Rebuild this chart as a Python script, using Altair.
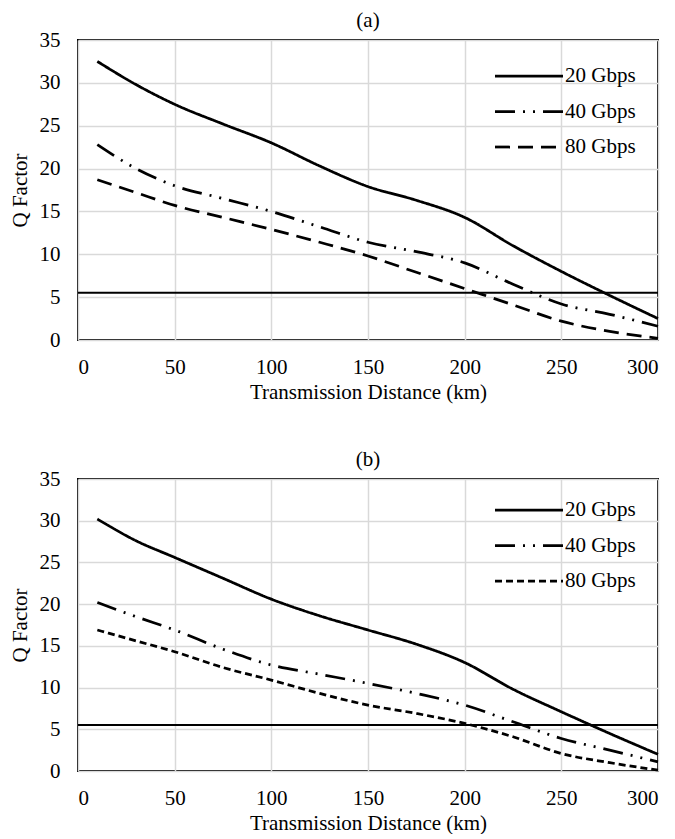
import altair as alt
import pandas as pd

DIST = [10, 30, 50, 75, 100, 125, 150, 175, 200, 225, 250, 275, 300]
SERIES = ["20 Gbps", "40 Gbps", "80 Gbps"]

# panel (a)
A_20 = [32.5, 29.8, 27.5, 25.2, 23.0, 20.3, 17.9, 16.3, 14.3, 11.0, 8.0, 5.2, 2.5]
A_40 = [22.8, 20.0, 18.0, 16.5, 15.0, 13.2, 11.4, 10.3, 9.0, 6.5, 4.2, 3.0, 1.6]
A_80 = [18.7, 17.2, 15.7, 14.3, 12.9, 11.4, 9.8, 7.9, 6.0, 4.1, 2.2, 1.0, 0.2]

# panel (b)
B_20 = [30.2, 27.6, 25.6, 23.1, 20.6, 18.6, 16.9, 15.2, 13.0, 9.8, 7.1, 4.5, 2.0]
B_40 = [20.2, 18.5, 16.9, 14.6, 12.7, 11.6, 10.5, 9.3, 7.9, 5.9, 3.9, 2.5, 1.1]
B_80 = [16.9, 15.6, 14.3, 12.4, 10.9, 9.3, 7.9, 6.9, 5.7, 4.1, 2.1, 1.0, 0.1]

THRESHOLD = [5.5]
X_TICKS = [0, 50, 100, 150, 200, 250, 300]
Y_TICKS = [0, 5, 10, 15, 20, 25, 30, 35]

FONT = "Liberation Serif"
FS = 21

DASH_A = [[1, 0], [20, 8, 2, 8, 2, 8], [15, 8]]
DASH_B = [[1, 0], [20, 8, 2, 8, 2, 8], [7, 4]]

# wide horizontal legend symbol (scaled by sqrt(size)/2)
LEG_PATH = "M-3,0H3"


def panel(title, s20, s40, s80, dashes, height, legend_y):
    df = pd.DataFrame({
        "Distance": DIST * 3,
        "Q": s20 + s40 + s80,
        "Rate": [s for s in SERIES for _ in DIST],
    })
    thr = pd.DataFrame({"Q": THRESHOLD})
    rule = alt.Chart(thr).mark_rule(color="black", strokeWidth=2).encode(
        y=alt.Y("Q:Q")
    )
    lines = alt.Chart(df).mark_line(
        interpolate="monotone", color="black", strokeWidth=2.75
    ).encode(
        x=alt.X("Distance:Q",
                scale=alt.Scale(domain=[0, 300], nice=False),
                axis=alt.Axis(values=X_TICKS, title="Transmission Distance (km)")),
        y=alt.Y("Q:Q",
                scale=alt.Scale(domain=[0, 35], nice=False),
                axis=alt.Axis(values=Y_TICKS, title="Q Factor")),
        strokeDash=alt.StrokeDash(
            "Rate:N",
            scale=alt.Scale(domain=SERIES, range=dashes),
            legend=alt.Legend(
                title=None, orient="none", legendX=438, legendY=legend_y,
                symbolType=LEG_PATH, symbolSize=514, symbolStrokeWidth=2.75,
                symbolStrokeColor="black", labelFont=FONT, labelFontSize=FS,
                labelColor="black", rowPadding=12.5, labelOffset=23, padding=0,
            ),
        ),
    )
    return alt.layer(rule, lines).properties(
        width=580, height=height, title=alt.TitleParams(title)
    )


pa = panel("(a)", A_20, A_40, A_80, DASH_A, 300, 23)
pb = panel("(b)", B_20, B_40, B_80, DASH_B, 292, 18)

chart = alt.vconcat(pa, pb, spacing=45).resolve_scale(
    strokeDash="independent"
).properties(
    padding={"left": 0, "top": 1, "right": 0, "bottom": 0}
).configure_axis(
    labelFont=FONT, titleFont=FONT, labelFontSize=FS, titleFontSize=FS,
    labelColor="black", titleColor="black", titleFontWeight="normal",
    gridColor="#d9d9d9", gridWidth=1.5, domain=False, ticks=False,
).configure_axisX(
    labelPadding=16, titlePadding=4
).configure_axisY(
    labelPadding=18, titlePadding=9
).configure_view(
    stroke="black", strokeWidth=2
).configure_title(
    font=FONT, fontSize=FS, fontWeight="normal", color="black", offset=-2
)

chart.save("out.html", embed_options={"renderer": "svg", "actions": False})
